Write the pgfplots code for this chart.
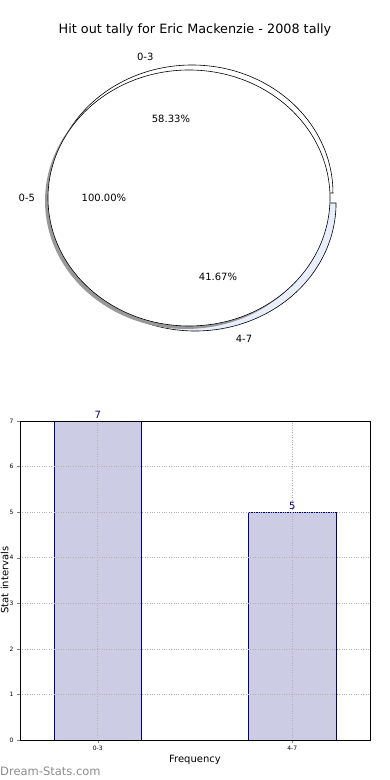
\documentclass[border=0pt]{standalone}
\usepackage{pgfplots}
\pgfplotsset{compat=1.18}
\usepackage{fontspec}
\setmainfont{DejaVu Sans}
\definecolor{barfill}{RGB}{204,204,228}
\definecolor{navyc}{RGB}{0,0,128}
\definecolor{wedgeblue}{RGB}{232,238,252}
\begin{document}
\begin{tikzpicture}[x=1pt,y=1pt]
\useasboundingbox (0,0) rectangle (390,780);
% title
\node[font=\fontsize{12.8}{15}\selectfont] at (195,750) {Hit out tally for Eric Mackenzie - 2008 tally};
% ---------- pie ----------
\begin{axis}[
  at={(189pt,582pt)}, anchor=center,
  scale only axis, width=366.6pt, height=320pt,
  xmin=-1.3, xmax=1.3, ymin=-1.25, ymax=1.25,
  hide axis, clip=false,
]
% wedge 0-3 : 7 of 12 -> 0..210 deg
\draw[black, line width=0.6pt, fill=white]
  (axis cs:0.021,0.039) -- (axis cs:1.021,0.039)
  arc[start angle=0, end angle=210, x radius=1, y radius=1] -- cycle;
% wedge 4-7 : 5 of 12 -> 210..360 deg
\draw[black, line width=0.6pt, fill=wedgeblue]
  (axis cs:0.043,-0.039) -- (axis cs:{0.043+cos(210)},{-0.039+sin(210)})
  arc[start angle=210, end angle=360, x radius=1, y radius=1] -- cycle;
% shadow of full slice
\fill[black!40] (axis cs:-0.021,-0.023) ellipse[x radius=1, y radius=1];
% full slice 0-5 : 12 of 12
\draw[black, line width=0.6pt, fill=white] (axis cs:0,0) ellipse[x radius=1, y radius=1];
% labels
\node[font=\fontsize{10}{12}\selectfont] at (axis cs:-1.15,0) {0-5};
\node[font=\fontsize{10}{12}\selectfont] at (axis cs:-0.31,1.1) {0-3};
\node[font=\fontsize{10}{12}\selectfont] at (axis cs:0.39,-1.1) {4-7};
\node[font=\fontsize{10}{12}\selectfont] at (axis cs:-0.603,0) {100.00\%};
\node[font=\fontsize{10}{12}\selectfont] at (axis cs:-0.128,0.617) {58.33\%};
\node[font=\fontsize{10}{12}\selectfont] at (axis cs:0.206,-0.617) {41.67\%};
\end{axis}
% ---------- bars ----------
\begin{axis}[
  at={(20pt,40pt)}, anchor=south west,
  scale only axis, width=350pt, height=319pt,
  xmin=-0.4, xmax=1.4, ymin=0, ymax=7,
  xtick={0,1}, xticklabels={0-3,4-7},
  ytick={0,1,...,7},
  tick label style={font=\fontsize{6}{7}\selectfont},
  /pgf/number format/assume math mode=true,
  tick align=outside, major tick length=3pt,
  xtick pos=left, ytick pos=left,
  grid=major,
  major grid style={gray!60, dotted, line width=0.6pt},
  axis line style={black, line width=0.8pt},
  axis on top,
  xlabel={Frequency},
  label style={font=\fontsize{10}{12}\selectfont},
  xlabel style={yshift=3pt},
  nodes near coords,
  every node near coord/.append style={font=\fontsize{10}{12}\selectfont, text=navyc, yshift=-1pt},
  clip=false,
]
\addplot[ybar, bar width=0.45, fill=barfill, draw=navyc, line width=0.8pt] coordinates {(0,7) (1,5)};
\end{axis}
\node[font=\fontsize{10}{12}\selectfont, rotate=90, anchor=north, inner sep=0pt] at (0.5,200) {Stat intervals};
\node[font=\fontsize{11.5}{13}\selectfont, text=black!45, anchor=west, inner sep=0pt] at (0,9) {Dream-Stats.com};
\end{tikzpicture}
\end{document}
